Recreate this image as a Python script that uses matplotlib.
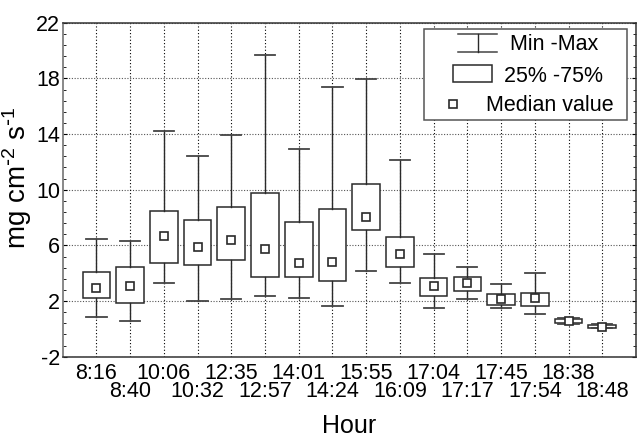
import matplotlib
matplotlib.use('Agg')
from matplotlib import pyplot as plt
from matplotlib.patches import Rectangle
from matplotlib.ticker import AutoMinorLocator

plt.rcParams['font.family'] = ['Liberation Sans', 'DejaVu Sans']
plt.rcParams['mathtext.default'] = 'regular'
plt.rcParams['axes.unicode_minus'] = False

# data
hours = ['8:16', '8:40', '10:06', '10:32', '12:35', '12:57', '14:01', '14:24',
         '15:55', '16:09', '17:04', '17:17', '17:45', '17:54', '18:38', '18:48']
mins = [0.85, 0.56, 3.27, 2.02, 2.17, 2.34, 2.19, 1.64,
        4.13, 3.33, 1.52, 2.17, 1.52, 1.05, 0.35, 0.05]
q1 = [2.19, 1.86, 4.71, 4.59, 4.97, 3.73, 3.76, 3.46,
      7.12, 4.44, 2.34, 2.72, 1.69, 1.62, 0.42, 0.08]
medians = [2.93, 3.08, 6.67, 5.88, 6.38, 5.72, 4.77, 4.78,
           8.01, 5.37, 3.06, 3.29, 2.17, 2.19, 0.59, 0.17]
q3 = [4.11, 4.42, 8.49, 7.85, 8.73, 9.76, 7.70, 8.59,
      10.38, 6.62, 3.68, 3.73, 2.53, 2.55, 0.72, 0.30]
maxs = [6.48, 6.31, 14.24, 12.42, 13.93, 19.70, 12.92, 17.40,
        17.95, 12.14, 5.38, 4.47, 3.20, 4.03, 0.80, 0.36]
yticks = [-2, 2, 6, 10, 14, 18, 22]

positions = list(range(1, len(hours) + 1))
stats = [dict(med=m, q1=a, q3=b, whislo=lo, whishi=hi, fliers=[])
         for m, a, b, lo, hi in zip(medians, q1, q3, mins, maxs)]

fig = plt.figure(figsize=(6.37, 4.38), dpi=100)
ax = fig.add_axes([0.0984, 0.1856, 0.9, 0.7624])

edge = '#2a2a2a'
ax.bxp(stats, positions=positions, widths=0.82, capwidths=0.6,
       patch_artist=True, showfliers=False,
       boxprops=dict(facecolor='white', edgecolor=edge, linewidth=1.1),
       whiskerprops=dict(color=edge, linewidth=1.0),
       capprops=dict(color='#444444', linewidth=1.3),
       medianprops=dict(linestyle='none'),
       zorder=3)
ax.plot(positions, medians, 's', markersize=5.2, markerfacecolor='white',
        markeredgecolor=edge, markeredgewidth=1.2, zorder=4)

ax.set_xlim(0, 17)
ax.set_ylim(-2, 22)
ax.set_yticks(yticks)
ax.yaxis.set_minor_locator(AutoMinorLocator(5))

# two rows of hour labels
ax.set_xticks(positions[0::2], hours[0::2])
ax.set_xticks(positions[1::2], hours[1::2], minor=True)
ax.tick_params(axis='x', which='major', length=0, pad=4.2, labelsize=15.5)
ax.tick_params(axis='x', which='minor', length=0, pad=17.5, labelsize=15.5)
ax.tick_params(axis='y', which='both', direction='in', right=True,
               labelsize=15.5, pad=2)
ax.tick_params(axis='y', which='major', length=3)
ax.tick_params(axis='y', which='minor', length=2.5)

for xp in positions:
    ax.axvline(xp, color='black', linestyle=(0, (1, 2)), linewidth=0.8, zorder=1)
ax.yaxis.grid(True, which='major', color='#555555', linestyle=(0, (1, 1.5)),
              linewidth=0.8, zorder=1)
ax.set_axisbelow(True)

for side in ['top', 'right', 'bottom']:
    ax.spines[side].set_color('#333333')
    ax.spines[side].set_linewidth(1.1)
ax.spines['left'].set_color('#7f7f7f')
ax.spines['left'].set_linewidth(1.3)

ax.set_xlabel('Hour', fontsize=18)
ax.xaxis.set_label_coords(0.5, -0.172)
ax.set_ylabel(r'mg cm$^{\text{-}2}$ s$^{\text{-}1}$', fontsize=20)
ax.yaxis.set_label_coords(-0.05, 0.535)

# legend box drawn by hand
tr = ax.transAxes
ax.add_patch(Rectangle((0.630, 0.709), 0.355, 0.272, transform=tr,
                       facecolor='white', edgecolor='#555555', linewidth=1.1,
                       zorder=5))
ax.plot([0.690, 0.758], [0.966, 0.966], transform=tr, color='#444444', lw=1.1, zorder=6)
ax.plot([0.690, 0.758], [0.913, 0.913], transform=tr, color='#444444', lw=1.1, zorder=6)
ax.plot([0.724, 0.724], [0.913, 0.966], transform=tr, color=edge, lw=1.0, zorder=6)
ax.add_patch(Rectangle((0.680, 0.822), 0.068, 0.053, transform=tr,
                       facecolor='white', edgecolor=edge, linewidth=1.1, zorder=6))
ax.plot([0.681], [0.757], 's', transform=tr, markersize=5.2, markerfacecolor='white',
        markeredgecolor=edge, markeredgewidth=1.2, zorder=6)
ax.text(0.857, 0.935, 'Min -Max', transform=tr, ha='center', va='center',
        fontsize=15.5, zorder=7)
ax.text(0.856, 0.840, '25% -75%', transform=tr, ha='center', va='center',
        fontsize=15.5, zorder=7)
ax.text(0.849, 0.752, 'Median value', transform=tr, ha='center', va='center',
        fontsize=15.5, zorder=7)

fig.savefig('out.png', dpi=100)
